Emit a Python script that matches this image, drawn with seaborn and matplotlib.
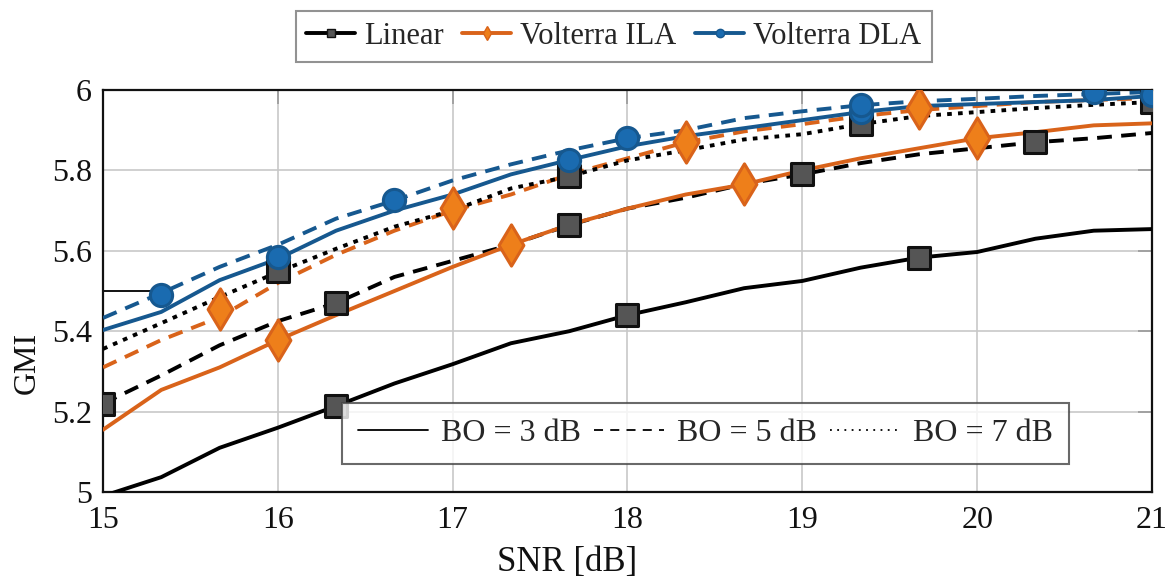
import numpy as np
import pandas as pd
import seaborn as sns
import matplotlib
matplotlib.use("Agg")
import matplotlib.pyplot as plt
from matplotlib.lines import Line2D

# ---------------- data ----------------
snr = [15, 15.333, 15.667, 16, 16.333, 16.667, 17, 17.333, 17.667, 18,
       18.333, 18.667, 19, 19.333, 19.667, 20, 20.333, 20.667, 21]

lin_bo3 = [4.99, 5.037, 5.11, 5.16, 5.214, 5.27, 5.318, 5.37, 5.40, 5.44,
           5.472, 5.507, 5.525, 5.558, 5.583, 5.597, 5.63, 5.65, 5.654]
lin_bo5 = [5.22, 5.29, 5.365, 5.425, 5.47, 5.535, 5.575, 5.615, 5.664, 5.705,
           5.732, 5.766, 5.79, 5.818, 5.84, 5.855, 5.87, 5.88, 5.893]
lin_bo7 = [5.356, 5.42, 5.485, 5.547, 5.605, 5.66, 5.70, 5.755, 5.785, 5.825,
           5.85, 5.877, 5.89, 5.915, 5.935, 5.945, 5.955, 5.963, 5.97]

ila_bo3 = [5.155, 5.254, 5.31, 5.378, 5.44, 5.50, 5.56, 5.615, 5.665, 5.705,
           5.74, 5.765, 5.80, 5.83, 5.855, 5.88, 5.895, 5.912, 5.917]
ila_bo5 = [5.31, 5.378, 5.435, 5.52, 5.59, 5.65, 5.70, 5.74, 5.79, 5.83,
           5.87, 5.897, 5.915, 5.935, 5.95, 5.96, 5.97, 5.975, 5.98]

dla_bo3 = [5.403, 5.448, 5.527, 5.58, 5.65, 5.70, 5.74, 5.79, 5.826, 5.86,
           5.885, 5.905, 5.925, 5.945, 5.96, 5.965, 5.97, 5.975, 5.985]
dla_bo5 = [5.433, 5.495, 5.56, 5.615, 5.68, 5.725, 5.775, 5.815, 5.85, 5.88,
           5.90, 5.93, 5.947, 5.962, 5.972, 5.978, 5.985, 5.99, 5.995]

# marker positions
lin_bo3_mx, lin_bo3_my = [16.333, 18, 19.667], [5.214, 5.44, 5.583]
lin_bo5_mx, lin_bo5_my = [15, 16.333, 17.667, 19, 20.333], [5.22, 5.47, 5.664, 5.79, 5.87]
lin_bo7_mx, lin_bo7_my = [16, 17.667, 19.333, 21], [5.55, 5.785, 5.915, 5.97]
ila_bo3_mx, ila_bo3_my = [16, 17.333, 18.667, 20], [5.378, 5.615, 5.765, 5.88]
ila_bo5_mx, ila_bo5_my = [15.667, 17, 18.333, 19.667], [5.455, 5.706, 5.87, 5.955]
dla_bo3_mx, dla_bo3_my = [16, 17.667, 19.333, 21], [5.585, 5.826, 5.945, 5.988]
dla_bo5_mx, dla_bo5_my = [15.333, 16.667, 18, 19.333, 20.667], [5.49, 5.726, 5.88, 5.963, 5.995]

stray_x, stray_y = [15, 15.333], [5.5, 5.5]

x_ticks = [15, 16, 17, 18, 19, 20, 21]
y_ticks = [5, 5.2, 5.4, 5.6, 5.8, 6]
y_tick_labels = ["5", "5.2", "5.4", "5.6", "5.8", "6"]

# ---------------- style ----------------
sns.set_theme(style="white")
plt.rcParams['font.family'] = ['Liberation Serif', 'DejaVu Serif']

BLACK = "#000000"
ORANGE = "#D9631A"
ORANGE_FILL = "#EE7F1A"
BLUE = "#16588F"
BLUE_FILL = "#1A6BB0"
SQ_FILL = "#555555"

LW = 2.8
SOLID = "-"
DASHED = (0, (3.8, 2.4))
DOTTED = (0, (1.2, 1.6))

fig = plt.figure(figsize=(11.67, 5.82), dpi=100)
ax = fig.add_axes([0.0883, 0.1546, 0.8988, 0.6908])

def line(y, color, ls, z):
    sns.lineplot(x=snr, y=y, ax=ax, color=color, linestyle=ls, linewidth=LW,
                 zorder=z, estimator=None, sort=False)

def marks(mx, my, marker, fc, ec, size, z):
    sns.scatterplot(x=mx, y=my, ax=ax, marker=marker, color=fc, edgecolor=ec,
                    linewidth=2.2, s=size ** 2, zorder=z)

sns.lineplot(x=stray_x, y=stray_y, ax=ax, color=BLACK, linewidth=1.3, zorder=2)

line(lin_bo3, BLACK, SOLID, 3)
line(lin_bo5, BLACK, DASHED, 3)
line(ila_bo3, ORANGE, SOLID, 4)
line(ila_bo5, ORANGE, DASHED, 4)
line(lin_bo7, BLACK, DOTTED, 5)
line(dla_bo3, BLUE, SOLID, 6)
line(dla_bo5, BLUE, DASHED, 6)

marks(lin_bo3_mx, lin_bo3_my, "s", SQ_FILL, "#111111", 16, 7)
marks(lin_bo5_mx, lin_bo5_my, "s", SQ_FILL, "#111111", 16, 7)
marks(lin_bo7_mx, lin_bo7_my, "s", SQ_FILL, "#111111", 16, 7)
marks(ila_bo3_mx, ila_bo3_my, "d", ORANGE_FILL, ORANGE, 21, 8)
marks(ila_bo5_mx, ila_bo5_my, "d", ORANGE_FILL, ORANGE, 21, 8)
marks(dla_bo3_mx, dla_bo3_my, "o", BLUE_FILL, BLUE, 16, 9)
marks(dla_bo5_mx, dla_bo5_my, "o", BLUE_FILL, BLUE, 16, 9)

ax.set_xlim(15, 21)
ax.set_ylim(5, 6)
ax.set_xticks(x_ticks)
ax.set_yticks(y_ticks)
ax.set_yticklabels(y_tick_labels)
ax.grid(True, color="#c8c8c8", linewidth=1.2)
ax.set_axisbelow(True)
for s in ax.spines.values():
    s.set_color("#111111")
    s.set_linewidth(1.6)
ax.tick_params(axis="both", which="major", direction="in", length=10,
               width=1.2, color="#999999", labelsize=23, labelcolor="#111111",
               top=True, right=True)
ax.tick_params(axis="x", pad=10)
ax.tick_params(axis="y", pad=8)
ax.set_xlabel("SNR [dB]", fontsize=25, color="#111111")
ax.set_ylabel("GMI", fontsize=23, color="#111111")
ax.xaxis.set_label_coords(0.442, -0.135)
ax.yaxis.set_label_coords(-0.058, 0.32)

# top legend (algorithms)
h1 = [Line2D([], [], color=BLACK, lw=LW, marker="s", markersize=6,
             markerfacecolor=SQ_FILL, markeredgecolor="#111111"),
      Line2D([], [], color=ORANGE, lw=LW, marker="d", markersize=7,
             markerfacecolor=ORANGE_FILL, markeredgecolor=ORANGE),
      Line2D([], [], color=BLUE, lw=LW, marker="o", markersize=6,
             markerfacecolor=BLUE_FILL, markeredgecolor=BLUE)]
leg1 = fig.legend(h1, ["Linear", "Volterra ILA", "Volterra DLA"],
                  loc="center", bbox_to_anchor=(0.526, 0.937), ncol=3,
                  fontsize=22, frameon=True, fancybox=False, edgecolor="#777777",
                  handlelength=1.6, handletextpad=0.3, columnspacing=0.6,
                  borderpad=0.35)
leg1.get_frame().set_linewidth(1.5)

# bottom legend (back-off)
h2 = [Line2D([], [], color=BLACK, lw=1.3, linestyle="-"),
      Line2D([], [], color=BLACK, lw=1.3, linestyle=(0, (5, 4))),
      Line2D([], [], color=BLACK, lw=1.3, linestyle=(0, (1, 3)))]
leg2 = ax.legend(h2, ["BO = 3 dB", "BO = 5 dB", "BO = 7 dB"],
                 loc="lower right", bbox_to_anchor=(0.936, 0.03), ncol=3,
                 fontsize=23, frameon=True, fancybox=False, edgecolor="#444444",
                 handlelength=2.2, handletextpad=0.4, columnspacing=0.4,
                 borderpad=0.5)
leg2.get_frame().set_linewidth(1.5)
leg2.set_zorder(20)

fig.savefig("out.png", dpi=100)
